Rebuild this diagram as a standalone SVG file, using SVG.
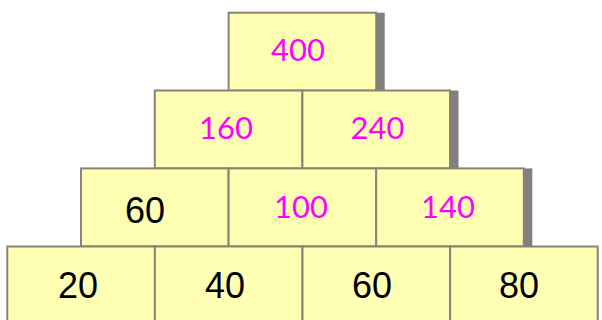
<svg xmlns="http://www.w3.org/2000/svg" width="602" height="320" viewBox="0 0 602 320">
<style>
.box{fill:#FFFFB4;stroke:#8a8178;stroke-width:2}
.sh{fill:#808080}
.m{font-family:Lato,"Noto Sans",sans-serif;font-size:31px;fill:#FF00FF;text-anchor:middle}
.k{font-family:"Liberation Sans",Arial,sans-serif;font-size:36px;fill:#000;text-anchor:middle}
</style>
<rect width="602" height="320" fill="#fff"/>
<g id="shadows">
<rect class="sh" x="376.2" y="12.7" width="8.5" height="78"/>
<rect class="sh" x="450" y="90.5" width="8.5" height="78"/>
<rect class="sh" x="523.8" y="168.4" width="8.5" height="78"/>
</g>
<g id="n400"><rect class="box" x="228.6" y="12.7" width="147.6" height="78"/><text class="m" x="298" y="61">400</text></g>
<g id="n160"><rect class="box" x="154.8" y="90.5" width="147.6" height="78"/><text class="m" x="226" y="138.5">160</text></g>
<g id="n240"><rect class="box" x="302.4" y="90.5" width="147.6" height="78"/><text class="m" x="377.5" y="138.5">240</text></g>
<g id="n60a"><rect class="box" x="81" y="168.4" width="147.6" height="78"/><text class="k" x="145" y="222.7">60</text></g>
<g id="n100"><rect class="box" x="228.6" y="168.4" width="147.6" height="78"/><text class="m" x="301" y="218">100</text></g>
<g id="n140"><rect class="box" x="376.2" y="168.4" width="147.6" height="78"/><text class="m" x="448" y="218">140</text></g>
<g id="n20"><rect class="box" x="7.3" y="246.5" width="147.6" height="78"/><text class="k" x="78" y="298">20</text></g>
<g id="n40"><rect class="box" x="154.9" y="246.5" width="147.6" height="78"/><text class="k" x="225" y="298">40</text></g>
<g id="n60b"><rect class="box" x="302.5" y="246.5" width="147.6" height="78"/><text class="k" x="372" y="298">60</text></g>
<g id="n80"><rect class="box" x="450.1" y="246.5" width="147.6" height="78"/><text class="k" x="519" y="298">80</text></g>
<g id="connectors"></g>
</svg>
